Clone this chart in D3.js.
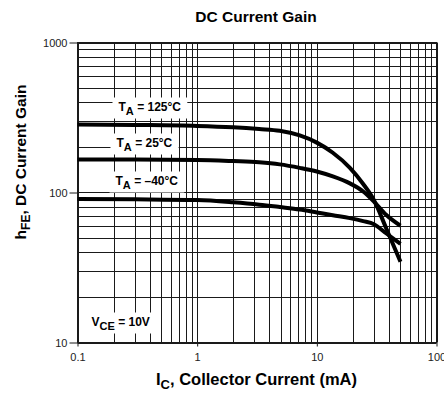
<!DOCTYPE html>
<html><head><meta charset="utf-8">
<script src="https://cdn.jsdelivr.net/npm/d3@7"></script>
<style>body{margin:0;background:#fff}svg{display:block;font-family:"Liberation Sans",Arial,sans-serif}</style>
</head><body><svg id="c" width="444" height="398"></svg>
<script>
const icValues = [0.1, 0.3, 1, 2, 3.3, 4.9, 7.2, 10, 13.6, 18.9, 24.4, 30, 37.9, 50];
const gain125 = [284, 282, 278, 272, 265, 258, 240, 215, 184, 146, 114, 89, 58, 34.5];
const gain25  = [166, 166, 165, 162, 159, 154, 146, 138, 128, 115, 101.6, 87, 71, 60];
const gainM40 = [90.5, 90, 89, 86, 83, 80, 77, 73.6, 70.5, 67.5, 64.5, 61.5, 53.5, 45.5];
const xTickLabels = ["0.1", "1", "10", "100"];
const yTickLabels = ["10", "100", "1000"];
const seriesNames = ["125°C", "25°C", "–40°C"];

const svg = d3.select("#c");
const x = d3.scaleLog().domain([0.1, 100]).range([77.5, 436.5]);
const y = d3.scaleLog().domain([10, 1000]).range([342.5, 42.5]);

const xGrid = [], yGrid = [];
[0.1, 1, 10].forEach(d => { for (let k = 1; k <= 10; k++) xGrid.push(d * k); });
[10, 100].forEach(d => { for (let k = 1; k <= 10; k++) yGrid.push(d * k); });

const g = svg.append("g");
g.selectAll("line.vx").data(xGrid).join("line")
  .attr("x1", d => Math.round(x(d)) + 0.5).attr("x2", d => Math.round(x(d)) + 0.5)
  .attr("y1", y(1000)).attr("y2", y(10))
  .attr("stroke", "#1a1a1a").attr("stroke-width", 1);
g.selectAll("line.hy").data(yGrid).join("line")
  .attr("y1", d => Math.round(y(d)) + 0.5).attr("y2", d => Math.round(y(d)) + 0.5)
  .attr("x1", x(0.1)).attr("x2", x(100))
  .attr("stroke", "#1a1a1a").attr("stroke-width", 1);

const xAxis = d3.axisBottom(x).tickValues(xTickLabels.map(Number)).tickFormat((d, i) => xTickLabels[i]).tickSize(4).tickPadding(7);
const yAxis = d3.axisLeft(y).tickValues(yTickLabels.map(Number)).tickFormat((d, i) => yTickLabels[i]).tickSize(8).tickPadding(2);
const gx = svg.append("g").attr("transform", `translate(0,${y(10)})`).call(xAxis);
const gy = svg.append("g").attr("transform", `translate(${x(0.1)},0)`).call(yAxis);
[gx, gy].forEach(a => {
  a.select(".domain").remove();
  a.selectAll("line").attr("stroke", "#1a1a1a");
  a.selectAll("text").attr("font-size", 11).attr("fill", "#222").attr("font-family", "Liberation Sans, Arial, sans-serif");
});
svg.append("rect").attr("x", x(0.1)).attr("y", y(1000)).attr("width", x(100) - x(0.1)).attr("height", y(10) - y(1000))
  .attr("fill", "none").attr("stroke", "#1a1a1a");

function label(px, py, main, sub, rest) {
  const grp = svg.append("g");
  const bg = grp.append("rect").attr("fill", "#fff");
  const t = grp.append("text").attr("x", px).attr("y", py).attr("font-weight", "bold").attr("font-size", 12).attr("fill", "#000");
  t.append("tspan").text(main);
  t.append("tspan").attr("font-size", 11).attr("dy", 4).text(sub);
  t.append("tspan").attr("dy", -4).text(rest);
  const b = t.node().getBBox();
  bg.attr("x", b.x - 6).attr("y", b.y - 2).attr("width", b.width + 12).attr("height", b.height + 4);
}
label(118.5, 110.5, "T", "A", " = " + seriesNames[0]);
label(116.5, 146.5, "T", "A", " = " + seriesNames[1]);
label(115.5, 184.5, "T", "A", " = " + seriesNames[2]);
label(91.5, 325.5, "V", "CE", " = 10V");

const line = d3.line().x(d => x(d[0])).y(d => y(d[1])).curve(d3.curveMonotoneX);
[gain125, gain25, gainM40].forEach(s => {
  svg.append("path").datum(icValues.map((v, i) => [v, s[i]]))
    .attr("d", line).attr("fill", "none").attr("stroke", "#000").attr("stroke-width", 4);
});

svg.append("text").attr("x", 256).attr("y", 21.5).attr("text-anchor", "middle")
  .attr("font-size", 15.5).attr("font-weight", "bold").text("DC Current Gain");
const xl = svg.append("text").attr("x", 256.5).attr("y", 385).attr("text-anchor", "middle")
  .attr("font-size", 16.5).attr("font-weight", "bold");
xl.append("tspan").text("I");
xl.append("tspan").attr("font-size", 13).attr("dy", 4).text("C");
xl.append("tspan").attr("dy", -4).text(", Collector Current (mA)");
const yl = svg.append("text").attr("transform", "translate(25.5,162) rotate(-90)").attr("text-anchor", "middle")
  .attr("font-size", 15.5).attr("font-weight", "bold");
yl.append("tspan").text("h");
yl.append("tspan").attr("font-size", 12).attr("dy", 4).text("FE");
yl.append("tspan").attr("dy", -4).text(", DC Current Gain");
</script></body></html>
